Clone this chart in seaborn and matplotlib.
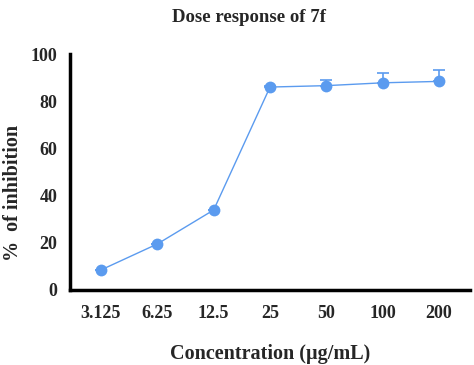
import matplotlib
matplotlib.use("Agg")
import matplotlib.pyplot as plt
import seaborn as sns
import numpy as np
import pandas as pd

concentrations = ["3.125", "6.25", "12.5", "25", "50", "100", "200"]
inhibition = [8.5, 19.5, 33.9, 86.0, 86.6, 87.8, 88.4]
err_upper = [0.0, 0.0, 0.0, 0.3, 2.5, 4.0, 4.7]

sns.set_style("white")
plt.rcParams['font.family'] = ['Liberation Serif', 'DejaVu Serif']

color = "#5b9bef"
fig = plt.figure(figsize=(4.74, 3.65), dpi=100)
ax = fig.add_axes([0.1477, 0.2055, 0.8439, 0.6465])

pos = np.arange(len(concentrations))
df = pd.DataFrame({"pos": pos, "val": inhibition})
ax.errorbar(pos, inhibition, yerr=[np.zeros(len(pos)), err_upper], fmt="none",
            ecolor=color, elinewidth=1.2, capsize=4, capthick=1.2, zorder=2)
sns.lineplot(data=df, x="pos", y="val", ax=ax, color=color, linewidth=1.0,
             marker="o", markersize=8.5, markeredgewidth=0, zorder=3)

ax.set_xlim(-0.55, 6.55)
ax.set_ylim(0, 100)
ax.set_xticks(pos)
ax.set_xticklabels(concentrations)
ax.set_yticks([0, 20, 40, 60, 80, 100])

for s in ["top", "right"]:
    ax.spines[s].set_visible(False)
for s in ["left", "bottom"]:
    ax.spines[s].set_linewidth(2.5)
    ax.spines[s].set_color("black")

ax.tick_params(axis="both", length=6, width=2.5, color="black", labelsize=13, pad=3)
ax.tick_params(axis="x", pad=5)
for lab in ax.get_xticklabels() + ax.get_yticklabels():
    lab.set_fontweight("bold")

ax.set_xlabel("Concentration (µg/mL)", fontsize=14.5, fontweight="bold")
ax.xaxis.set_label_coords(0.5, -0.228)
ax.set_ylabel("%  of inhibition", fontsize=14.5, fontweight="bold")
ax.yaxis.set_label_coords(-0.118, 0.413)
fig.text(0.525, 0.953, "Dose response of 7f", ha="center", va="center",
         fontsize=13.5, fontweight="bold")

fig.savefig("out.png", dpi=100)
